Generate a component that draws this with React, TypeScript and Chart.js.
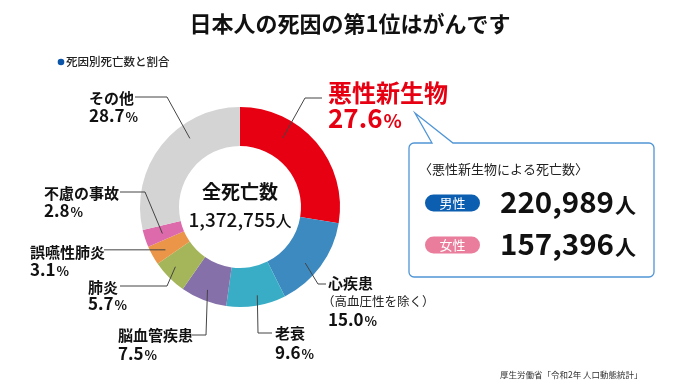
import React, { useEffect, useRef } from 'react';
import { Chart, registerables } from 'chart.js';

Chart.register(...registerables);

// ---- data ----
const titleText = '日本人の死因の第1位はがんです';
const subtitleText = '死因別死亡数と割合';
const categories = ['悪性新生物', '心疾患', '老衰', '脳血管疾患', '肺炎', '誤嚥性肺炎', '不慮の事故', 'その他'];
const sharePercent = [27.6, 15.0, 9.6, 7.5, 5.7, 3.1, 2.8, 28.7];
const heartNote = '（高血圧性を除く）';
const centerTitle = '全死亡数';
const totalDeaths = 1372755;
const boxTitle = '〈悪性新生物による死亡数〉';
const sexLabels = ['男性', '女性'];
const cancerDeathsBySex = [220989, 157396];
const sourceText = '厚生労働省「令和2年 人口動態統計」';

// ---- styles ----
const sliceColors = ['#E60012', '#3D8AC0', '#39ADC5', '#8670A9', '#A5B65A', '#EA9547', '#DD6AAA', '#D4D4D4'];
const sexColors = ['#0C5FB0', '#EA7D9B'];
const FONT = '"Noto Sans CJK JP", "Noto Sans", sans-serif';

// label layout: t = fraction within slice for leader start, r = radius of leader start
type LabelLayout = {
  t: number; r: number;
  elbow: [number, number] | null;
  endX: number; endY: number | null;
  x: number; nameY: number; pctY: number;
  nameSize: number; pctSize: number; color: string;
};
const labelLayout: LabelLayout[] = [
  { t: 0.32, r: 81, elbow: [305, 98], endX: 322, endY: 98, x: 328, nameY: 93, pctY: 119, nameSize: 24, pctSize: 26, color: '#E60012' },
  { t: 0.58, r: 86, elbow: [318, 284], endX: 326, endY: 284, x: 328, nameY: 283, pctY: 320, nameSize: 15, pctSize: 17, color: '#111' },
  { t: 0.45, r: 90, elbow: [258, 333], endX: 272, endY: 333, x: 275, nameY: 333, pctY: 353, nameSize: 15, pctSize: 17, color: '#111' },
  { t: 0.5, r: 89, elbow: [206, 335], endX: 192, endY: 335, x: 118, nameY: 335, pctY: 354, nameSize: 15, pctSize: 17, color: '#111' },
  { t: 0.6, r: 88, elbow: [167, 286], endX: 120, endY: 286, x: 88, nameY: 287, pctY: 304, nameSize: 15, pctSize: 17, color: '#111' },
  { t: 0.42, r: 86, elbow: null, endX: 104, endY: null, x: 30, nameY: 252, pctY: 270, nameSize: 15, pctSize: 17, color: '#111' },
  { t: 0.45, r: 82, elbow: [145, 192], endX: 120, endY: 192, x: 44, nameY: 193, pctY: 211, nameSize: 15, pctSize: 17, color: '#111' },
  { t: 0.65, r: 85, elbow: [167, 97], endX: 135, endY: 97, x: 89, nameY: 98, pctY: 116, nameSize: 15, pctSize: 17, color: '#111' },
];

const fmt = (n: number) => n.toLocaleString('en-US');

function drawPct(ctx: CanvasRenderingContext2D, x: number, cy: number, value: number, size: number, color: string) {
  const base = cy + size * 0.36;
  ctx.fillStyle = color;
  ctx.textBaseline = 'alphabetic';
  ctx.textAlign = 'left';
  ctx.font = `bold ${size}px ${FONT}`;
  const s = value.toFixed(1);
  ctx.fillText(s, x, base);
  const w = ctx.measureText(s).width;
  ctx.font = `bold ${Math.round(size * 0.74)}px ${FONT}`;
  ctx.fillText('%', x + w + 1, base);
}

const overlayPlugin = {
  id: 'overlay',
  afterDraw(chart: any) {
    const ctx: CanvasRenderingContext2D = chart.ctx;
    const meta = chart.getDatasetMeta(0);
    ctx.save();

    // title
    ctx.fillStyle = '#111';
    ctx.font = `bold 22px ${FONT}`;
    ctx.textAlign = 'center';
    ctx.textBaseline = 'middle';
    ctx.fillText(titleText, 350, 24);

    // subtitle
    ctx.fillStyle = '#0B55A8';
    ctx.beginPath();
    ctx.arc(61, 62, 3.3, 0, Math.PI * 2);
    ctx.fill();
    ctx.fillStyle = '#222';
    ctx.font = `500 11.5px ${FONT}`;
    ctx.textAlign = 'left';
    ctx.fillText(subtitleText, 66, 62);

    // leader lines + labels
    meta.data.forEach((el: any, i: number) => {
      const p = el.getProps(['x', 'y', 'startAngle', 'endAngle'], true);
      const L = labelLayout[i];
      const a = p.startAngle + (p.endAngle - p.startAngle) * L.t;
      const sx = p.x + Math.cos(a) * L.r;
      const sy = p.y + Math.sin(a) * L.r;
      ctx.strokeStyle = '#444';
      ctx.lineWidth = 1;
      ctx.beginPath();
      ctx.moveTo(sx, sy);
      if (L.elbow) ctx.lineTo(L.elbow[0], L.elbow[1]);
      ctx.lineTo(L.endX, L.endY === null ? sy : L.endY);
      ctx.stroke();

      ctx.fillStyle = L.color;
      ctx.font = `bold ${L.nameSize}px ${FONT}`;
      ctx.textAlign = 'left';
      ctx.textBaseline = 'middle';
      ctx.fillText(categories[i], L.x, L.nameY);
      if (i === 1) {
        ctx.font = `12.5px ${FONT}`;
        ctx.fillStyle = '#222';
        ctx.fillText(heartNote, L.x - 6, L.nameY + 18);
      }
      drawPct(ctx, L.x, L.pctY, sharePercent[i], L.pctSize, L.color);
    });

    // center text
    const c = meta.data[0].getProps(['x', 'y'], true);
    ctx.fillStyle = '#111';
    ctx.textAlign = 'center';
    ctx.textBaseline = 'middle';
    ctx.font = `bold 19px ${FONT}`;
    ctx.fillText(centerTitle, c.x, c.y - 15);
    ctx.font = `500 19px ${FONT}`;
    const tot = fmt(totalDeaths);
    const wN = ctx.measureText(tot).width;
    ctx.font = `500 16px ${FONT}`;
    const wP = ctx.measureText('人').width;
    const left = c.x - (wN + wP) / 2;
    ctx.textAlign = 'left';
    ctx.textBaseline = 'alphabetic';
    ctx.font = `500 19px ${FONT}`;
    ctx.fillText(tot, left, c.y + 20);
    ctx.font = `500 16px ${FONT}`;
    ctx.fillText('人', left + wN, c.y + 20);

    // callout box
    const bx = 409, by = 143, bw = 245, bh = 134, rr = 5;
    ctx.beginPath();
    ctx.moveTo(bx + rr, by);
    ctx.lineTo(432, by);
    ctx.lineTo(415, 113);
    ctx.lineTo(453, by);
    ctx.lineTo(bx + bw - rr, by);
    ctx.arcTo(bx + bw, by, bx + bw, by + rr, rr);
    ctx.lineTo(bx + bw, by + bh - rr);
    ctx.arcTo(bx + bw, by + bh, bx + bw - rr, by + bh, rr);
    ctx.lineTo(bx + rr, by + bh);
    ctx.arcTo(bx, by + bh, bx, by + bh - rr, rr);
    ctx.lineTo(bx, by + rr);
    ctx.arcTo(bx, by, bx + rr, by, rr);
    ctx.closePath();
    ctx.fillStyle = '#fff';
    ctx.fill();
    ctx.strokeStyle = '#4F95D6';
    ctx.lineWidth = 1.3;
    ctx.stroke();

    ctx.fillStyle = '#222';
    ctx.font = `13px ${FONT}`;
    ctx.textAlign = 'left';
    ctx.textBaseline = 'middle';
    ctx.fillText(boxTitle, 419, 169);

    const rowY = [203, 245];
    sexLabels.forEach((lab, k) => {
      const y = rowY[k];
      ctx.fillStyle = sexColors[k];
      ctx.beginPath();
      (ctx as any).roundRect(425, y - 8.5, 55, 17, 8.5);
      ctx.fill();
      ctx.fillStyle = '#fff';
      ctx.font = `13px ${FONT}`;
      ctx.textAlign = 'center';
      ctx.textBaseline = 'middle';
      ctx.fillText(lab, 452.5, y);

      ctx.fillStyle = '#111';
      ctx.textAlign = 'left';
      ctx.textBaseline = 'alphabetic';
      ctx.font = `bold 29.5px ${FONT}`;
      const s = fmt(cancerDeathsBySex[k]);
      ctx.fillText(s, 500, y + 10);
      const w = ctx.measureText(s).width;
      ctx.font = `bold 21px ${FONT}`;
      ctx.fillText('人', 500 + w + 1, y + 10);
    });

    // source
    ctx.fillStyle = '#333';
    ctx.font = `8.5px ${FONT}`;
    ctx.textAlign = 'left';
    ctx.textBaseline = 'middle';
    ctx.fillText(sourceText, 500, 375);

    ctx.restore();
  },
};

export default function App() {
  const ref = useRef<HTMLCanvasElement | null>(null);
  useEffect(() => {
    if (!ref.current) return;
    const chart = new Chart(ref.current, {
      type: 'doughnut',
      data: {
        labels: categories,
        datasets: [{
          data: sharePercent,
          backgroundColor: sliceColors,
          borderWidth: 0,
        }],
      },
      options: {
        responsive: false,
        maintainAspectRatio: false,
        devicePixelRatio: 1,
        animation: false,
        cutout: '61%',
        layout: { padding: { left: 140, right: 360, top: 107, bottom: 84 } },
        plugins: { legend: { display: false }, tooltip: { enabled: false }, title: { display: false } },
        events: [],
      },
      plugins: [overlayPlugin],
    } as any);
    return () => chart.destroy();
  }, []);
  return (
    <div style={{ position: 'absolute', left: 0, top: 0, width: 700, height: 391, background: '#fff' }}>
      <canvas ref={ref} width={700} height={391} style={{ display: 'block', width: 700, height: 391 }} />
    </div>
  );
}
